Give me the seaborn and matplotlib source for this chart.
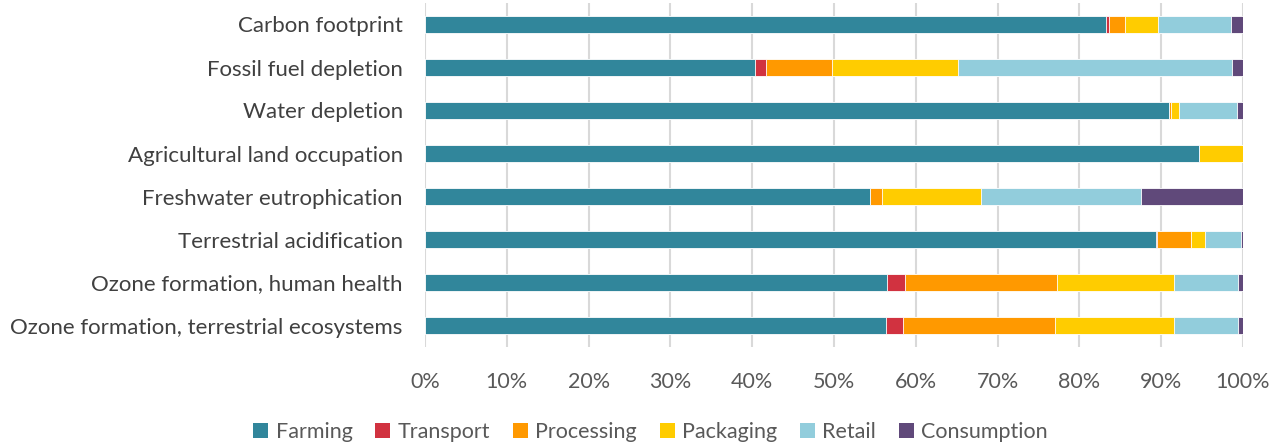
import numpy as np
import pandas as pd
import matplotlib
matplotlib.use("Agg")
import matplotlib.pyplot as plt
import seaborn as sns
from matplotlib.patches import Patch
from matplotlib.ticker import PercentFormatter

categories = [
    "Carbon footprint",
    "Fossil fuel depletion",
    "Water depletion",
    "Agricultural land occupation",
    "Freshwater eutrophication",
    "Terrestrial acidification",
    "Ozone formation, human health",
    "Ozone formation, terrestrial ecosystems",
]
stages = ["Farming", "Transport", "Processing", "Packaging", "Retail", "Consumption"]

farming     = [83.3, 40.4, 91.0, 94.6, 54.4, 89.4, 56.5, 56.3]
transport   = [0.3, 1.3, 0.0, 0.0, 0.0, 0.1, 2.2, 2.1]
processing  = [2.0, 8.1, 0.2, 0.0, 1.5, 4.1, 18.6, 18.6]
packaging   = [4.0, 15.3, 1.0, 5.4, 12.1, 1.7, 14.3, 14.6]
retail      = [8.9, 33.5, 7.1, 0.0, 19.5, 4.5, 7.8, 7.8]
consumption = [1.5, 1.4, 0.7, 0.0, 12.5, 0.2, 0.6, 0.6]

colors = ["#31869B", "#D13240", "#FF9900", "#FFCC00", "#92CDDC", "#60497A"]

sns.set_theme(style="white")
plt.rcParams["font.family"] = ["Lato", "DejaVu Sans"]

df = pd.DataFrame(
    np.array([farming, transport, processing, packaging, retail, consumption]).T,
    columns=stages, index=categories,
)
shares = df.div(df.sum(axis=1), axis=0) * 100
cum = shares.cumsum(axis=1)

fig = plt.figure(figsize=(12.83, 4.44), dpi=100)
ax = fig.add_axes([425 / 1283, 1 - 347 / 444, 818 / 1283, 344 / 444])

# Stack by layering cumulative totals, widest first
for stage, col in reversed(list(zip(stages, colors))):
    sns.barplot(x=cum[stage].values, y=categories, orient="h", color=col,
                width=0.4, edgecolor="white", linewidth=0.6, saturation=1,
                ax=ax)

ax.set_xlim(0, 100)
ax.set_ylim(7.5, -0.5)
ax.set_xticks(np.arange(0, 101, 10))
ax.xaxis.set_major_formatter(PercentFormatter(decimals=0))
ax.grid(axis="x", color="#D9D9D9", linewidth=1.5)
ax.set_axisbelow(True)
for s in ax.spines.values():
    s.set_visible(False)
ax.set_xlabel("")
ax.set_ylabel("")
ax.tick_params(axis="x", labelsize=15.5, labelcolor="#595959", pad=18, length=0)
ax.tick_params(axis="y", labelsize=16, labelcolor="#404040", pad=16, length=0)

handles = [Patch(facecolor=c, edgecolor="none") for c in colors]
fig.legend(handles, stages, loc="center", bbox_to_anchor=(0.507, 1 - 432 / 444),
           ncol=6, frameon=False, fontsize=15.5, handlelength=0.7,
           handleheight=0.7, handletextpad=0.35, columnspacing=1.05,
           labelcolor="#595959")

fig.savefig("out.png", dpi=100)
